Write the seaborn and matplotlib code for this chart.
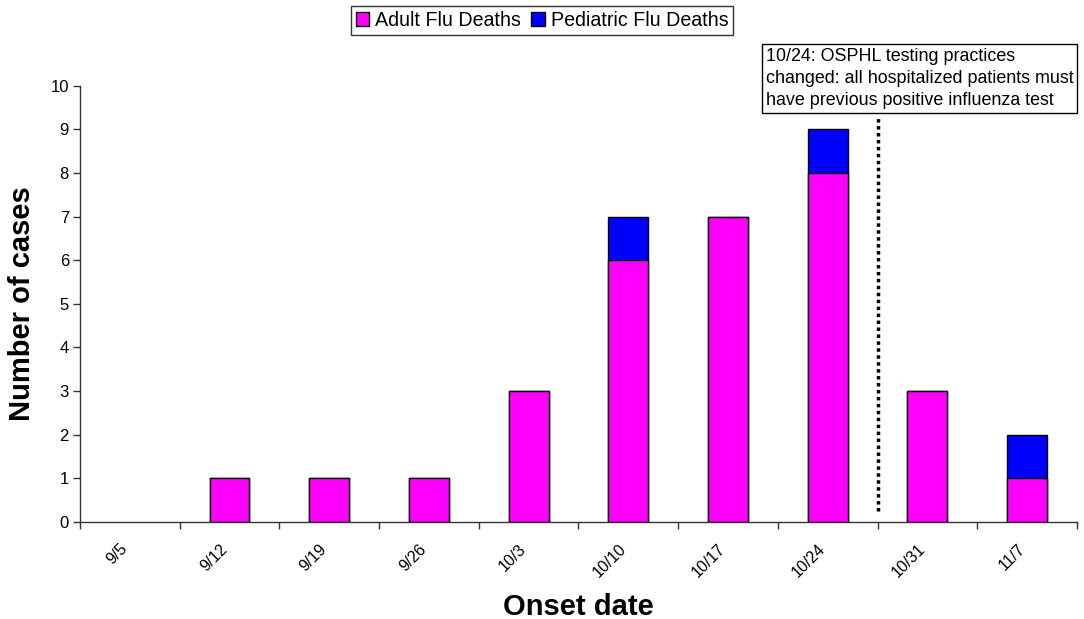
import numpy as np
import pandas as pd
import matplotlib
matplotlib.use("Agg")
import matplotlib.pyplot as plt
from matplotlib.patches import Patch
from matplotlib.ticker import FixedLocator
from matplotlib.transforms import ScaledTranslation
import seaborn as sns

# Weekly onset dates and case counts
onset_dates = ["9/5", "9/12", "9/19", "9/26", "10/3", "10/10", "10/17", "10/24", "10/31", "11/7"]
adult_deaths = [0, 1, 1, 1, 3, 6, 7, 8, 3, 1]
pediatric_deaths = [0, 0, 0, 0, 0, 1, 0, 1, 0, 1]
y_ticks = list(range(0, 11))
note_text = ("10/24: OSPHL testing practices\n"
             "changed: all hospitalized patients must\n"
             "have previous positive influenza test")

df = pd.DataFrame({"date": onset_dates, "adult": adult_deaths, "pediatric": pediatric_deaths})
df["total"] = df["adult"] + df["pediatric"]

sns.set_style("white")
plt.rcParams["font.family"] = ["Liberation Sans", "DejaVu Sans"]
plt.rcParams["text.color"] = "black"
plt.rcParams["xtick.color"] = "black"
plt.rcParams["ytick.color"] = "black"

fig = plt.figure(figsize=(10.84, 6.19), dpi=100)
ax = fig.add_axes([0.0738, 0.157, 0.9197, 0.7046])

# Stacked bars: total drawn first (blue), adult on top (magenta)
sns.barplot(data=df, x="date", y="total", color="#0000FF", width=0.4,
            edgecolor="black", linewidth=1, saturation=1, ax=ax)
sns.barplot(data=df, x="date", y="adult", color="#FF00FF", width=0.4,
            edgecolor="black", linewidth=1, saturation=1, ax=ax)
for p in ax.patches:
    if p.get_height() == 0:
        p.set_visible(False)

ax.set_xlim(-0.5, len(onset_dates) - 0.5)
ax.set_ylim(0, 10)
ax.set_yticks(y_ticks)
ax.tick_params(axis="y", which="major", direction="out", length=5, width=1,
               color="#333333", labelsize=12, pad=3, left=True)
ax.set_xticks(range(len(onset_dates)))
ax.set_xticklabels(onset_dates, rotation=45, ha="right", rotation_mode="anchor")
ax.tick_params(axis="x", which="major", length=0, pad=14, labelsize=11.5)
shift = ScaledTranslation(-10 / 100, 0, fig.dpi_scale_trans)
for lbl in ax.get_xticklabels():
    lbl.set_transform(lbl.get_transform() + shift)
ax.xaxis.set_minor_locator(FixedLocator(np.arange(-0.5, len(onset_dates), 1.0)))
ax.tick_params(axis="x", which="minor", direction="out", length=5, width=1,
               color="#333333", bottom=True)

for side in ["top", "right"]:
    ax.spines[side].set_visible(False)
for side in ["left", "bottom"]:
    ax.spines[side].set_color("#333333")
    ax.spines[side].set_linewidth(1)

ax.set_xlabel("")
ax.set_ylabel("")
fig.text(22 / 1084, 1 - 304 / 619, "Number of cases", rotation=90, ha="center", va="center",
         fontsize=21, fontweight="bold")
fig.text(578 / 1084, 1 - 607 / 619, "Onset date", ha="center", va="center",
         fontsize=21, fontweight="bold")

# Dotted line marking the testing change
ax.plot([7.5, 7.5], [0.25, 9.3], color="black", linestyle=(0, (1, 1)), linewidth=2.5)

fig.text(766 / 1084, 1 - 48 / 619, note_text, ha="left", va="top", fontsize=12.9, linespacing=1.4,
         bbox=dict(boxstyle="square,pad=0.2", facecolor="white", edgecolor="black", linewidth=1))

handles = [Patch(facecolor="#FF00FF", edgecolor="black", label="Adult Flu Deaths"),
           Patch(facecolor="#0000FF", edgecolor="black", label="Pediatric Flu Deaths")]
leg = fig.legend(handles=handles, loc="center", bbox_to_anchor=(542 / 1084, 1 - 20.5 / 619), ncol=2,
                 fontsize=14.1, frameon=True, fancybox=False, edgecolor="black",
                 handlelength=0.7, handleheight=0.7, handletextpad=0.3,
                 columnspacing=0.5, borderpad=0.25, borderaxespad=0)
leg.get_frame().set_linewidth(1)

fig.savefig("out.png", dpi=100)
